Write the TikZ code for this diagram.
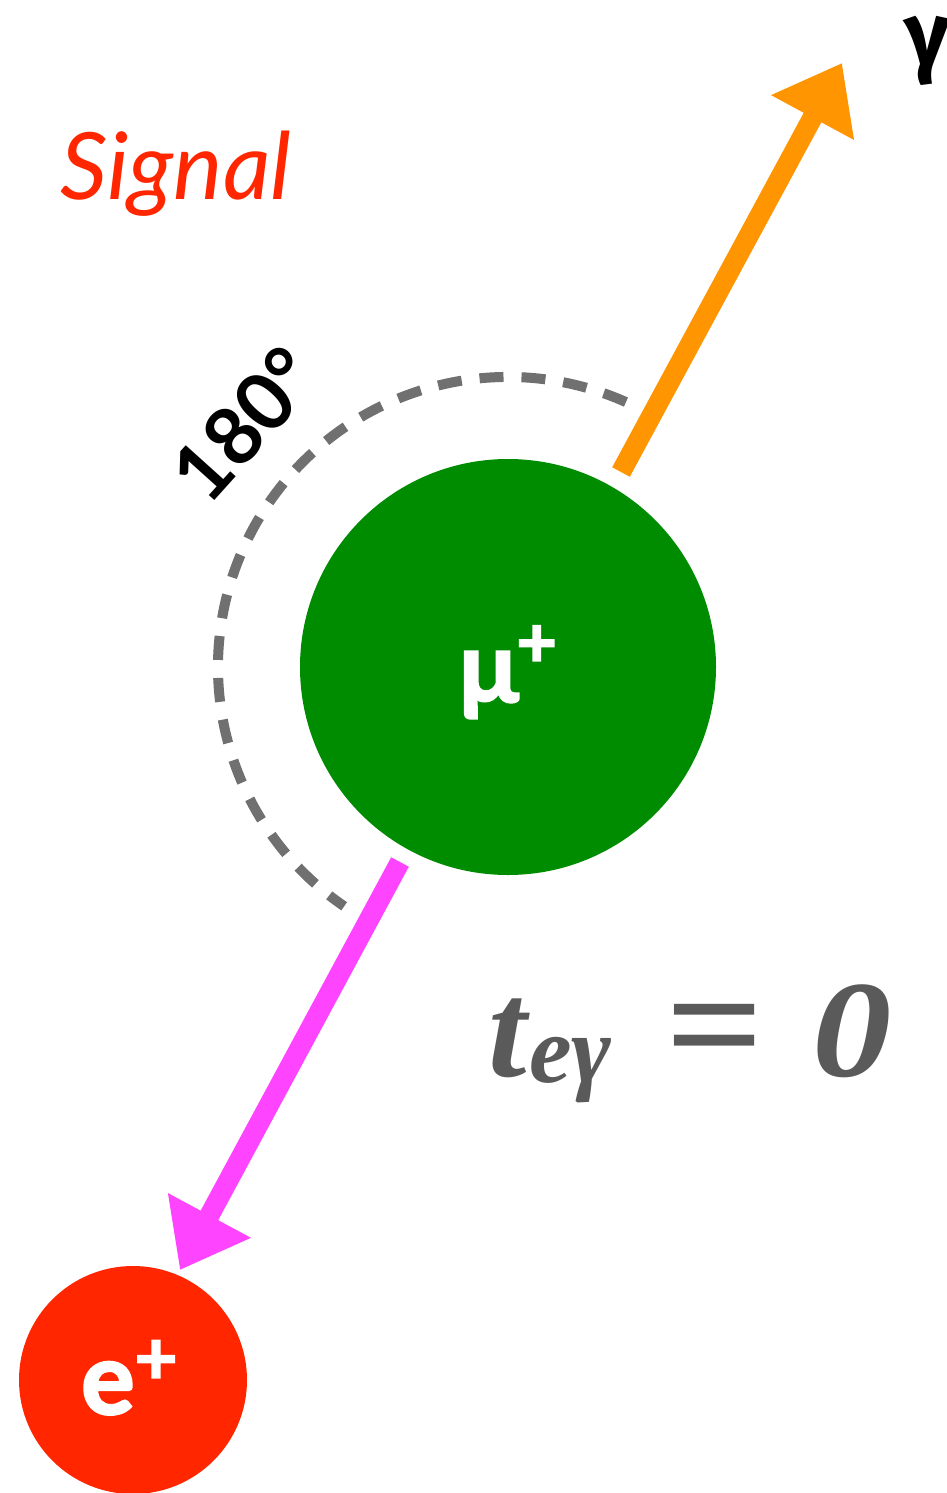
\documentclass[tikz,border=0pt]{standalone}
\usepackage{fontspec}
\usetikzlibrary{arrows.meta}
\newfontfamily\labelfont{Lato}
\newfontfamily\heavyfont{Lato}[BoldFeatures={FakeBold=2.5}]
\newfontfamily\gamfont{Fira Sans}
\newfontfamily\eqfont{Liberation Serif}
\definecolor{mugreen}{HTML}{008C00}
\definecolor{ered}{HTML}{FF2600}
\definecolor{gorange}{HTML}{FF9500}
\definecolor{emag}{HTML}{FF44FF}
\definecolor{arcgray}{HTML}{707070}
\definecolor{txtgray}{HTML}{5A5A5A}
\begin{document}
\begin{tikzpicture}[x=1pt,y=-1pt,
  particle/.style={circle,inner sep=0pt},
  ptext/.style={anchor=base west,inner sep=0pt,text=white},
  track/.style={line width=20pt,-{Triangle[length=62pt,width=90pt]}},
]
\clip (0,0) rectangle (947,1493);
\useasboundingbox (0,0) rectangle (947,1493);
\fill[white] (0,0) rectangle (947,1493);

\node[particle,fill=mugreen,minimum size=416pt] (mu) at (508,667) {};
\node[particle,fill=ered,minimum size=228pt] (e) at (133,1380) {};
\node[ptext,font=\heavyfont\bfseries\fontsize{98}{98}\selectfont] (mutxt) at (459,702) {μ\kern-0.02em\raisebox{0.36em}{\fontsize{70}{70}\selectfont +}};
\node[ptext,font=\heavyfont\bfseries\fontsize{100}{100}\selectfont] (etxt) at (81,1414) {e\kern0.0em\raisebox{0.3em}{\fontsize{74}{74}\selectfont +}};

\coordinate (gtail) at (621,472);
\coordinate (gtip) at (842,63);
\coordinate (etail) at (400,862);
\coordinate (etip) at (180,1270);
\draw[track,gorange] (gtail) -- (gtip);
\draw[track,emag] (etail) -- (etip);

\draw[arcgray,line width=10pt,dash pattern=on 24pt off 18pt]
  (mu.center) ++(-66:290) arc[start angle=-66,end angle=-235.6,radius=290];

\node[rotate=48,font=\labelfont\bfseries\fontsize{80}{80}\selectfont] (ang) at (245,424) {180°};

\node[anchor=base west,text=ered,font=\labelfont\itshape\fontsize{93}{93}\selectfont] (sig) at (57,199) {Signal};

\node[anchor=base west,inner sep=0pt,font=\gamfont\bfseries\fontsize{90}{90}\selectfont] (gam) at (904,66) {γ};

\node[anchor=base west,inner sep=0pt,text=txtgray,font=\eqfont\bfseries\itshape\fontsize{138}{138}\selectfont] (teg) at (488,1076) {t\kern0.02em\raisebox{-0.05em}{\fontsize{96}{96}\selectfont eγ}\hspace{0.38em}\scalebox{1.25}[1.12]{=}\hspace{0.36em}\scalebox{1.15}[1]{0}};
\end{tikzpicture}
\end{document}
